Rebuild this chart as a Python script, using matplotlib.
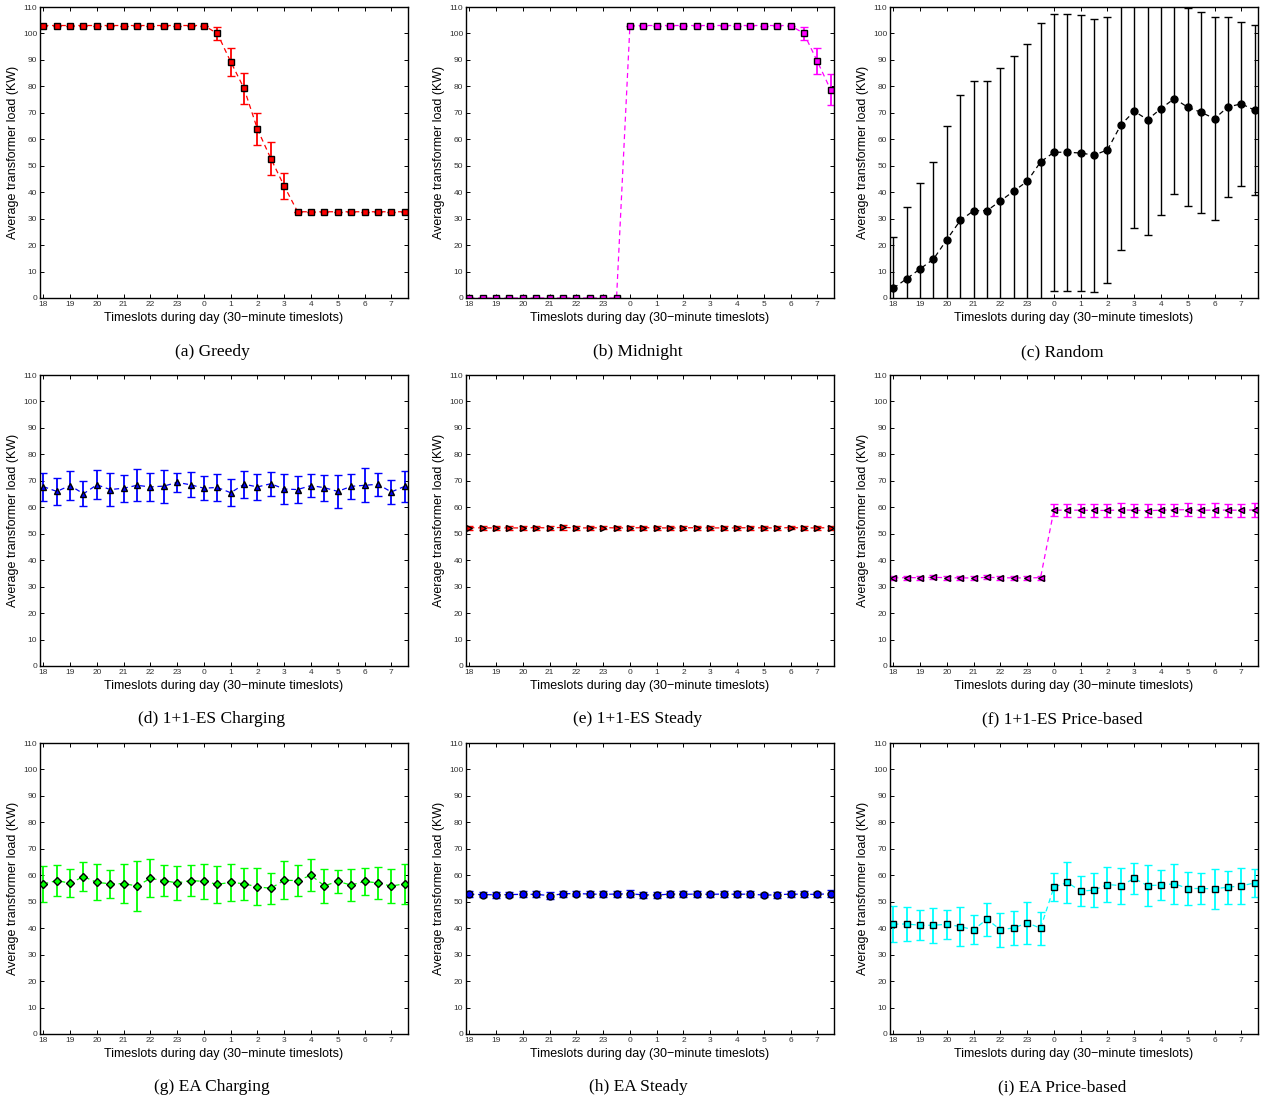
import matplotlib
matplotlib.use("Agg")
import matplotlib.pyplot as plt
import numpy as np

plt.rcParams["font.family"] = ["Liberation Sans", "DejaVu Sans"]

# 28 half-hour slots from 18:00 to 07:30
slots = np.arange(1, 29)
tick_pos = np.arange(1, 29, 2)
tick_labels = ["18", "19", "20", "21", "22", "23", "0", "1", "2", "3", "4", "5", "6", "7"]

# (a) Greedy
greedy_mean = [103.0, 103.0, 103.0, 103.0, 103.0, 103.0, 103.0, 103.0, 103.0, 103.0, 103.0, 103.0, 103.0,
               100.0, 89.3, 79.2, 63.8, 52.7, 42.3,
               32.6, 32.6, 32.6, 32.6, 32.6, 32.6, 32.6, 32.6, 32.6]
greedy_err = [0, 0, 0, 0, 0, 0, 0, 0, 0, 0, 0, 0, 0,
              2.3, 5.2, 6.0, 6.0, 6.3, 5.0,
              0, 0, 0, 0, 0, 0, 0, 0, 0]

# (b) Midnight
midnight_mean = [0, 0, 0, 0, 0, 0, 0, 0, 0, 0, 0, 0,
                 103.0, 103.0, 103.0, 103.0, 103.0, 103.0, 103.0, 103.0, 103.0, 103.0, 103.0, 103.0, 103.0,
                 100.0, 89.5, 78.7]
midnight_err = [0, 0, 0, 0, 0, 0, 0, 0, 0, 0, 0, 0,
                0, 0, 0, 0, 0, 0, 0, 0, 0, 0, 0, 0, 0,
                2.3, 5.0, 5.9]

# (c) Random
random_mean = [3.7, 7.3, 11.0, 14.7, 22.1, 29.3, 33.0, 33.0, 36.7, 40.4, 44.1, 51.4, 55.1, 55.1,
               54.8, 54.0, 56.0, 65.4, 70.6, 67.4, 71.6, 75.4, 72.1, 70.2, 67.8, 72.2, 73.4, 71.0]
random_err = [19.5, 27.0, 32.5, 36.7, 43.0, 47.5, 49.0, 49.0, 50.3, 51.2, 51.9, 52.4, 52.4, 52.3,
              52.2, 51.6, 50.3, 47.1, 44.1, 43.6, 40.1, 36.2, 37.4, 38.0, 38.3, 33.9, 31.1, 32.1]

# (d) 1+1-ES Charging
es_charging_mean = [67.8, 66.0, 68.2, 65.1, 68.5, 66.7, 67.2, 68.3, 67.7, 68.0, 69.4, 68.5, 67.2, 67.5,
                    65.5, 68.7, 67.7, 68.9, 66.9, 66.7, 68.2, 67.4, 66.0, 67.9, 68.3, 68.7, 65.8, 67.9]
es_charging_err = [5.3, 5.0, 5.4, 4.8, 5.5, 6.2, 5.1, 6.1, 5.3, 6.2, 3.6, 4.7, 4.5, 5.0,
                   5.2, 5.1, 5.0, 4.5, 5.5, 5.2, 4.5, 4.9, 6.1, 4.7, 6.4, 4.4, 4.6, 5.8]

# (e) 1+1-ES Steady
es_steady_mean = [52.3, 52.2, 52.2, 52.2, 52.2, 52.3, 52.2, 52.4, 52.2, 52.2, 52.3, 52.2, 52.2, 52.3,
                  52.2, 52.2, 52.2, 52.3, 52.2, 52.2, 52.2, 52.3, 52.2, 52.2, 52.3, 52.2, 52.2, 52.3]
es_steady_err = [0.8, 0.7, 0.7, 0.8, 0.7, 0.8, 0.7, 0.9, 0.7, 0.8, 0.7, 0.8, 0.7, 0.8,
                 0.7, 0.8, 0.7, 0.8, 0.7, 0.8, 0.7, 0.8, 0.7, 0.8, 0.7, 0.8, 0.7, 0.8]

# (f) 1+1-ES Price-based
es_price_mean = [33.3, 33.4, 33.4, 33.5, 33.4, 33.3, 33.3, 33.5, 33.4, 33.3, 33.3, 33.4,
                 58.9, 58.9, 58.9, 58.8, 58.8, 59.0, 58.9, 58.7, 58.9, 59.0, 59.1, 58.8, 59.0, 58.9, 58.9, 59.0]
es_price_err = [0.8, 0.8, 0.8, 0.8, 0.8, 0.8, 0.8, 0.8, 0.8, 0.8, 0.8, 0.8,
                2.3, 2.4, 2.5, 2.4, 2.4, 2.5, 2.4, 2.4, 2.5, 2.4, 2.5, 2.4, 2.5, 2.4, 2.5, 2.5]

# (g) EA Charging
ea_charging_mean = [56.7, 58.0, 57.0, 59.5, 57.3, 56.8, 56.8, 56.0, 58.8, 58.0, 57.1, 58.0, 57.7, 56.6,
                    57.3, 56.8, 55.6, 55.1, 58.1, 58.0, 60.0, 56.0, 57.7, 56.3, 57.7, 57.1, 55.9, 56.8]
ea_charging_err = [6.7, 6.0, 5.3, 5.6, 6.8, 5.3, 7.3, 9.5, 7.2, 6.0, 6.3, 5.7, 6.6, 7.0,
                   7.1, 6.1, 7.0, 5.8, 7.2, 5.9, 6.0, 6.3, 4.4, 6.2, 5.2, 6.1, 6.3, 7.6]

# (h) EA Steady
ea_steady_mean = [52.8, 52.7, 52.6, 52.7, 52.8, 52.8, 52.3, 53.0, 53.1, 52.9, 52.8, 52.9, 53.0, 52.6,
                  52.5, 52.9, 52.8, 52.9, 52.8, 52.9, 52.8, 52.9, 52.5, 52.6, 52.9, 52.8, 52.8, 53.0]
ea_steady_err = [1.2, 1.1, 1.1, 1.0, 1.2, 1.1, 1.2, 1.2, 1.0, 1.3, 1.1, 1.2, 1.3, 1.1,
                 1.0, 1.3, 1.1, 1.2, 1.0, 1.2, 1.1, 1.0, 0.9, 1.1, 1.3, 1.1, 1.0, 1.3]

# (i) EA Price-based
ea_price_mean = [41.5, 41.6, 41.1, 41.1, 41.5, 40.6, 39.4, 43.4, 39.4, 40.1, 42.0, 40.0,
                 55.5, 57.3, 54.0, 54.4, 56.5, 56.1, 58.8, 56.1, 56.3, 56.8, 55.0, 55.0, 54.9, 55.5, 56.0, 57.1]
ea_price_err = [6.9, 6.4, 5.7, 6.7, 5.5, 7.3, 5.5, 6.3, 6.4, 6.3, 8.0, 6.3,
                5.3, 7.9, 5.8, 6.5, 6.6, 6.8, 5.9, 7.6, 5.8, 7.6, 6.3, 6.0, 7.6, 6.3, 6.8, 5.3]

captions = ["(a) Greedy", "(b) Midnight", "(c) Random",
            "(d) 1+1-ES Charging", "(e) 1+1-ES Steady", "(f) 1+1-ES Price-based",
            "(g) EA Charging", "(h) EA Steady", "(i) EA Price-based"]

# matlab-style pure colours
RED, MAG, BLK, BLU, GRN, CYN = "#ff0000", "#ff00ff", "#000000", "#0000ff", "#00ff00", "#00ffff"

panels = [
    (greedy_mean, greedy_err, RED, "s", 4.0),
    (midnight_mean, midnight_err, MAG, "s", 4.0),
    (random_mean, random_err, BLK, "o", 5.0),
    (es_charging_mean, es_charging_err, BLU, "^", 5.0),
    (es_steady_mean, es_steady_err, RED, ">", 5.0),
    (es_price_mean, es_price_err, MAG, "<", 5.0),
    (ea_charging_mean, ea_charging_err, GRN, "D", 4.0),
    (ea_steady_mean, ea_steady_err, BLU, "o", 5.0),
    (ea_price_mean, ea_price_err, CYN, "s", 4.0),
]

W, H = 1271, 1102
fig = plt.figure(figsize=(W / 100, H / 100), dpi=100)

lefts = [40, 466, 890]
tops = [7, 375, 743]
aw, ah = 368, 291
cap_y = [352, 719, 1087]

for i, (mean, err, col, mk, ms) in enumerate(panels):
    r, c = divmod(i, 3)
    l, t = lefts[c], tops[r]
    ax = fig.add_axes([l / W, 1 - (t + ah) / H, aw / W, ah / H])
    lw_err = 1.0 if col == BLK else 1.3
    ax.errorbar(slots, mean, yerr=err, fmt="--", color=col, ecolor=col,
                marker=mk, mfc=col, mec="k", mew=1.0, ms=ms, lw=0.9,
                elinewidth=lw_err, capsize=2.6, capthick=lw_err, dashes=(4, 3))
    ax.set_xlim(0.75, 28.25)
    ax.set_ylim(0, 110)
    ax.set_xticks(tick_pos)
    ax.set_xticklabels(tick_labels)
    ax.set_yticks(np.arange(0, 111, 10))
    ax.tick_params(direction="in", top=True, right=True, length=3, width=0.7,
                   labelsize=6, pad=2, colors="k", labelcolor="#333333")
    for sp in ax.spines.values():
        sp.set_linewidth(1.0)
    ax.set_xlabel("Timeslots during day (30\u2212minute timeslots)", fontsize=9, labelpad=3)
    ax.set_ylabel("Average transformer load (KW)", fontsize=9, labelpad=3)
    fig.text((l + aw / 2 - 12) / W, 1 - cap_y[r] / H, captions[i],
             ha="center", va="center", fontsize=12.5, family="Liberation Serif")

fig.savefig("out.png", dpi=100)
